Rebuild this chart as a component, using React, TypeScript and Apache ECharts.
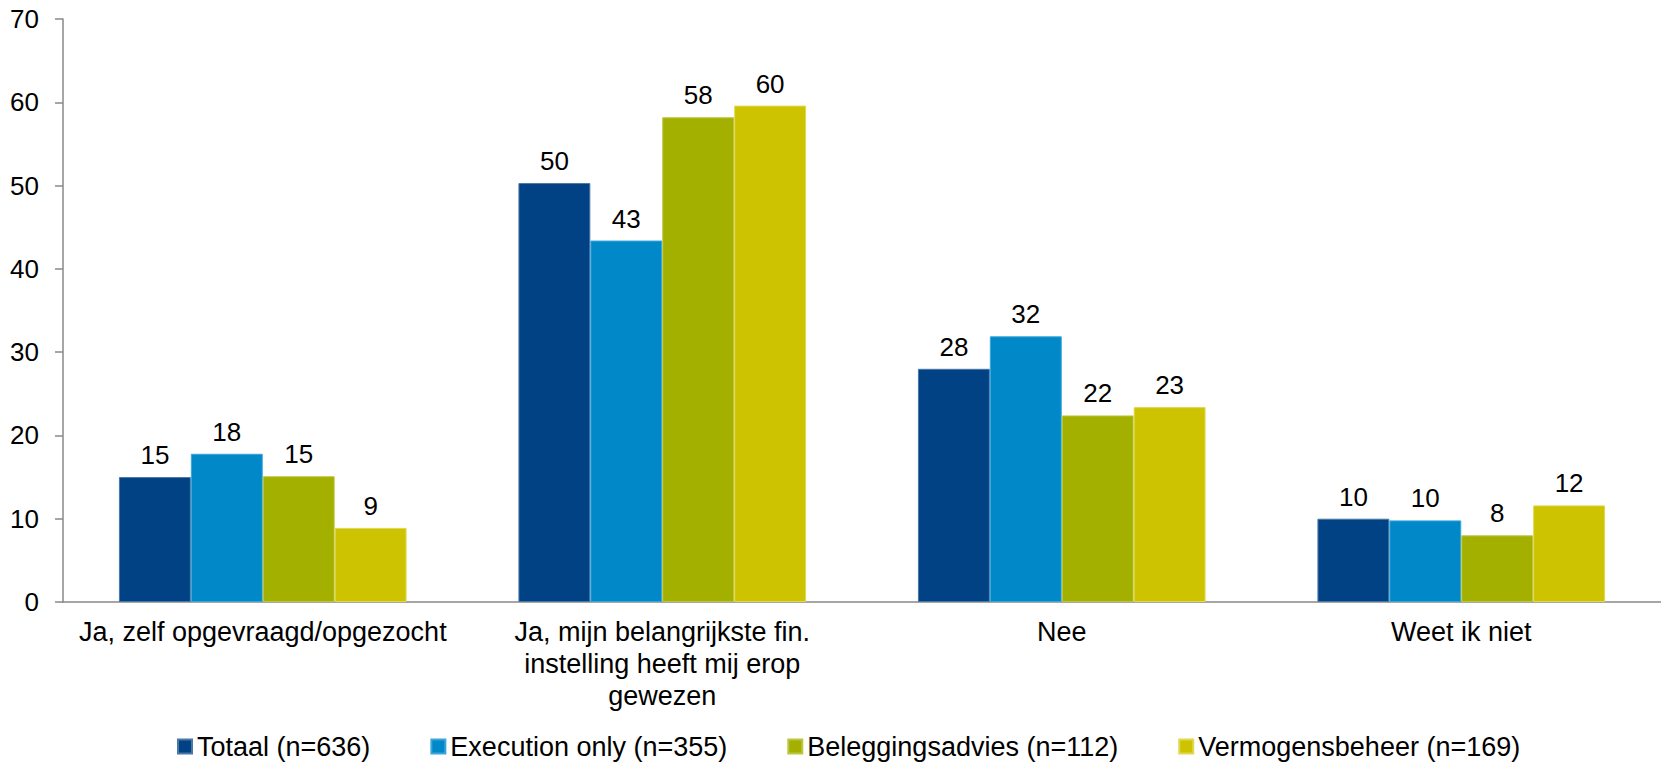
import React, { useEffect, useRef } from "react";
import * as echarts from "echarts";

const categories = [
  "Ja, zelf opgevraagd/opgezocht",
  "Ja, mijn belangrijkste fin.\ninstelling heeft mij erop\ngewezen",
  "Nee",
  "Weet ik niet",
];
const seriesNames = [
  "Totaal (n=636)",
  "Execution only (n=355)",
  "Beleggingsadvies (n=112)",
  "Vermogensbeheer (n=169)",
];
const totaal = [15.0, 50.3, 28.0, 10.0];
const executionOnly = [17.8, 43.4, 31.9, 9.8];
const beleggingsadvies = [15.1, 58.2, 22.4, 8.0];
const vermogensbeheer = [8.9, 59.6, 23.4, 11.6];
const colors = ["#004283", "#0088c9", "#a4b000", "#cec300"];
const borderColors = ["#4a77a8", "#3aa6d9", "#bcc640", "#e0d850"];

const FONT = "'Liberation Sans', Arial, sans-serif";

export default function App() {
  const ref = useRef<HTMLDivElement>(null);
  useEffect(() => {
    document.body.style.margin = "0";
    const chart = echarts.init(ref.current!, null, { renderer: "svg" });
    const values = [totaal, executionOnly, beleggingsadvies, vermogensbeheer];
    chart.setOption({
      animation: false,
      backgroundColor: "#ffffff",
      textStyle: { fontFamily: FONT },
      grid: { left: 63, right: 0, top: 19, bottom: 160, containLabel: false },
      legend: {
        left: 172,
        top: 728,
        padding: 5,
        itemWidth: 14,
        itemHeight: 14,
        itemGap: 60,
        icon: "rect",
        textStyle: { fontSize: 27, color: "#000", fontFamily: FONT, lineHeight: 27 },
        data: seriesNames,
      },
      xAxis: {
        type: "category",
        data: categories,
        axisLine: { lineStyle: { color: "#898989", width: 1.5 } },
        axisTick: { length: 7, lineStyle: { color: "#898989", width: 1.5 } },
        axisLabel: {
          interval: 0,
          margin: 14,
          fontSize: 27,
          lineHeight: 32,
          color: "#000",
          fontFamily: FONT,
        },
      },
      yAxis: {
        type: "value",
        min: 0,
        max: 70,
        interval: 10,
        splitLine: { show: false },
        axisLine: { show: true, lineStyle: { color: "#898989", width: 1.5 } },
        axisTick: { show: true, length: 8, lineStyle: { color: "#898989", width: 1.5 } },
        axisLabel: { fontSize: 26, color: "#000", margin: 24, fontFamily: FONT },
      },
      series: seriesNames.map((name, i) => ({
        name,
        type: "bar",
        data: values[i],
        barGap: "0%",
        barCategoryGap: "28%",
        itemStyle: { color: colors[i], borderColor: borderColors[i], borderWidth: 1 },
        label: {
          show: true,
          position: "top",
          distance: 9,
          fontSize: 26,
          color: "#000",
          fontFamily: FONT,
          formatter: (p: any) => String(Math.round(p.value)),
        },
      })),
    });
    return () => chart.dispose();
  }, []);
  return <div ref={ref} style={{ width: 1661, height: 762 }} />;
}
